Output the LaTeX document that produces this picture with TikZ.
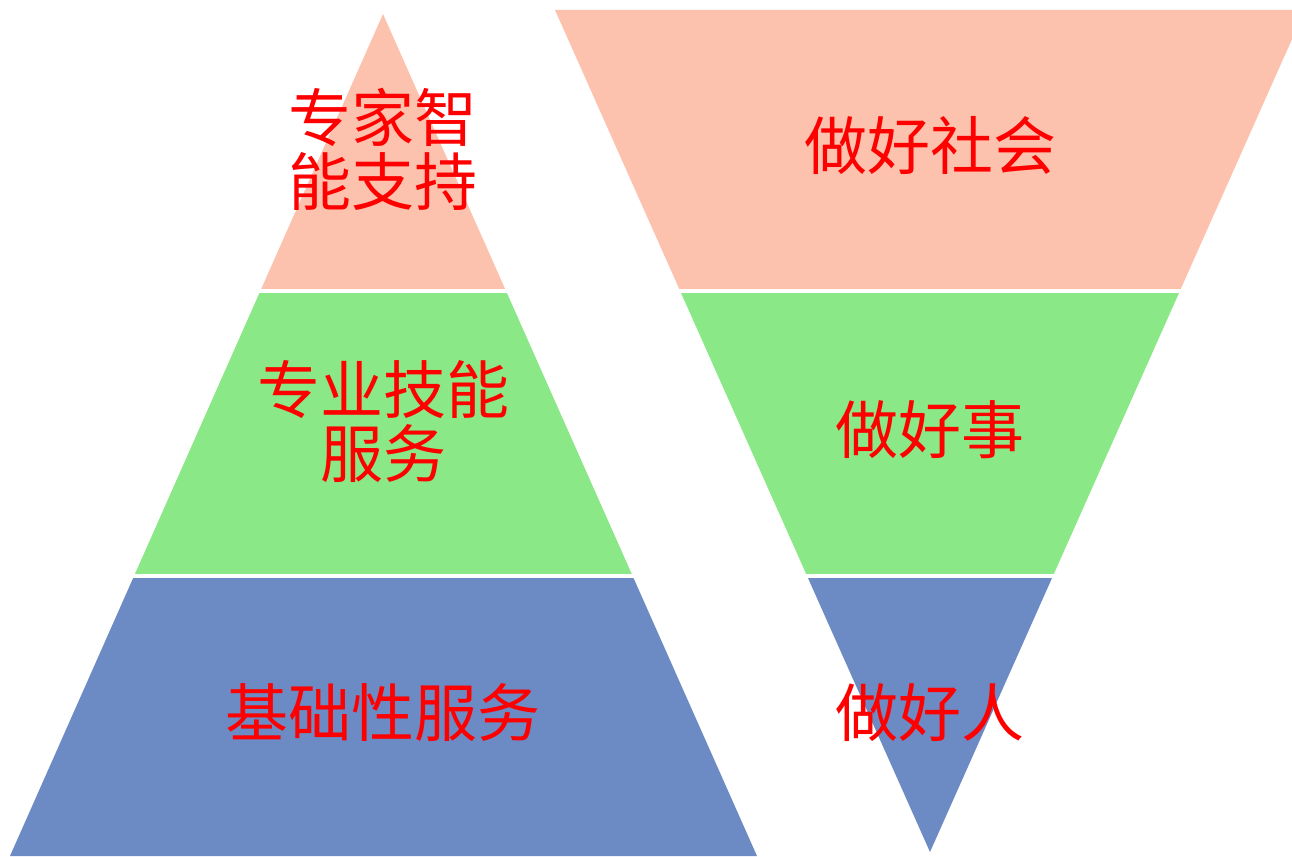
\documentclass[tikz,border=0pt]{standalone}
\usepackage{fontspec}
\newfontfamily\cjk{Noto Sans CJK SC}
\definecolor{peach}{RGB}{252,194,174}
\definecolor{lgreen}{RGB}{138,232,134}
\definecolor{lblue}{RGB}{108,139,196}
\tikzset{
  lbl/.style={text=red, font=\cjk\fontsize{63}{64}\selectfont, align=center, inner sep=0pt},
}
\begin{document}
\begin{tikzpicture}[x=1pt,y=-1pt]
\useasboundingbox (0,0) rectangle (1292,856);
\clip (0,0) rectangle (1292,856);
% left pyramid bands
\begin{scope}\clip (0,0) rectangle (1292,288);
\fill[peach] (383,14) -- (757,856) -- (10,856) -- cycle;\end{scope}
\begin{scope}\clip (0,293) rectangle (1292,573);
\fill[lgreen] (383,14) -- (757,856) -- (10,856) -- cycle;\end{scope}
\begin{scope}\clip (0,578) rectangle (1292,856);
\fill[lblue] (383,14) -- (757,856) -- (10,856) -- cycle;\end{scope}
% right inverted pyramid bands
\begin{scope}\clip (0,10) rectangle (1292,288);
\fill[peach] (555,10) -- (1305,10) -- (930,852) -- cycle;\end{scope}
\begin{scope}\clip (0,293) rectangle (1292,573);
\fill[lgreen] (555,10) -- (1305,10) -- (930,852) -- cycle;\end{scope}
\begin{scope}\clip (0,578) rectangle (1292,856);
\fill[lblue] (555,10) -- (1305,10) -- (930,852) -- cycle;\end{scope}
% labels
\node[lbl] (l1) at (383,149) {专家智\\能支持};
\node[lbl] (l2) at (383,422) {专业技能\\服务};
\node[lbl] (l3) at (383,713) {基础性服务};
\node[lbl] (r1) at (930,145) {做好社会};
\node[lbl] (r2) at (930,430) {做好事};
\node[lbl] (r3) at (930,713) {做好人};
\end{tikzpicture}
\end{document}
